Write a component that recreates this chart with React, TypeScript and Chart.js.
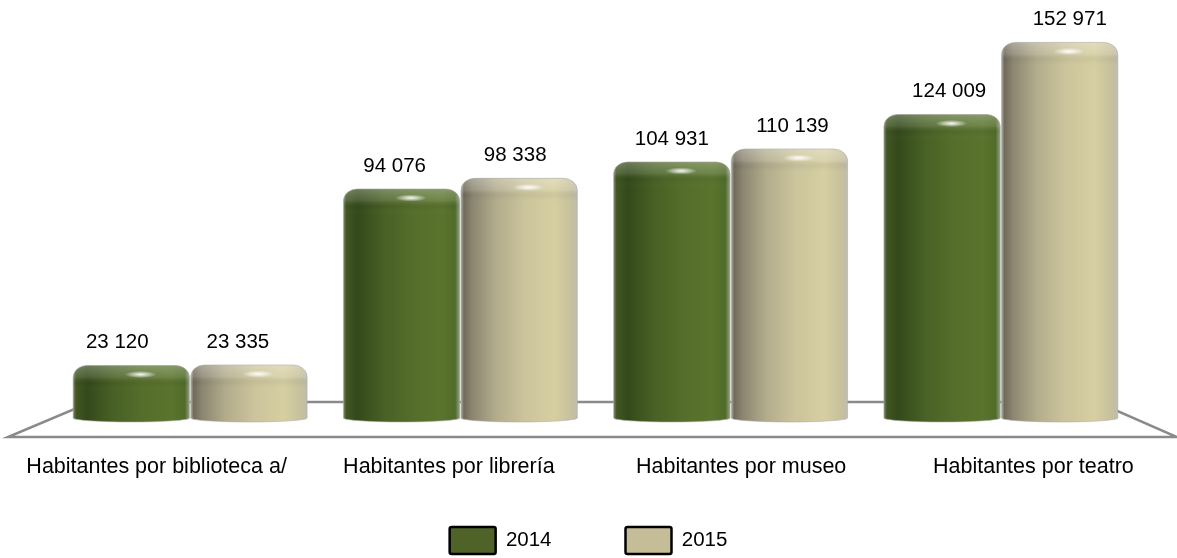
import React, { useEffect, useRef } from 'react';
import { Chart, registerables } from 'chart.js';

Chart.register(...registerables);

const categories = [
  'Habitantes por biblioteca a/',
  'Habitantes por librería',
  'Habitantes por museo',
  'Habitantes por teatro',
];
const seriesNames = ['2014', '2015'];
const values2014 = [23120, 94076, 104931, 124009];
const values2015 = [23335, 98338, 110139, 152971];
const seriesColors = ['#4f6228', '#c4bd97'];

const FONT = "'Liberation Sans', Arial, Helvetica, sans-serif";

const gradientStops: Array<Array<[number, string]>> = [
  [
    [0, '#7d8a6c'],
    [0.025, '#415622'],
    [0.12, '#34491b'],
    [0.35, '#486125'],
    [0.6, '#556e2b'],
    [0.85, '#5a742e'],
    [0.96, '#516b29'],
    [1, '#93a088'],
  ],
  [
    [0, '#b0afa6'],
    [0.025, '#716a5a'],
    [0.1, '#8c8672'],
    [0.3, '#b2ac8c'],
    [0.55, '#cbc49c'],
    [0.8, '#d6cfa2'],
    [0.95, '#c6c09c'],
    [1, '#bdbdb5'],
  ],
];

function fmt(v: number): string {
  return String(v).replace(/\B(?=(\d{3})+(?!\d))/g, ' ');
}

function cylPath(ctx: CanvasRenderingContext2D, x0: number, x1: number, top: number, bottom: number) {
  const w = x1 - x0;
  const h = bottom - top;
  const rx = Math.min(14, w / 2);
  const ry = Math.min(12, h / 3);
  const by = 4;
  ctx.beginPath();
  ctx.moveTo(x0, bottom - by);
  ctx.lineTo(x0, top + ry);
  ctx.ellipse(x0 + rx, top + ry, rx, ry, 0, Math.PI, 1.5 * Math.PI);
  ctx.lineTo(x1 - rx, top);
  ctx.ellipse(x1 - rx, top + ry, rx, ry, 0, 1.5 * Math.PI, 2 * Math.PI);
  ctx.lineTo(x1, bottom - by);
  ctx.ellipse((x0 + x1) / 2, bottom - by, w / 2, by, 0, 0, Math.PI);
  ctx.closePath();
}

const cylinderPlugin = {
  id: 'cylinder3d',
  beforeDatasetsDraw(chart: any) {
    const { ctx, chartArea } = chart;
    const b = chartArea.bottom;
    const fl = chartArea.left - 47;
    const fr = chartArea.right + 41;
    const bl = chartArea.left + 36;
    const br = chartArea.right - 39;
    ctx.save();
    ctx.strokeStyle = '#8a8a8a';
    ctx.lineWidth = 2.5;
    ctx.beginPath();
    ctx.moveTo(bl, b - 21);
    ctx.lineTo(br, b - 21);
    ctx.lineTo(fr, b + 14);
    ctx.lineTo(fl, b + 14);
    ctx.closePath();
    ctx.stroke();
    ctx.restore();
  },
  beforeDatasetDraw(chart: any, args: any) {
    const { ctx } = chart;
    const meta = args.meta;
    const stops = gradientStops[args.index] || gradientStops[0];
    ctx.save();
    meta.data.forEach((el: any) => {
      const { x, y, base, width } = el.getProps(['x', 'y', 'base', 'width'], true);
      const x0 = x - width / 2;
      const x1 = x + width / 2;
      const top = y;
      const bottom = base - 1;
      const g = ctx.createLinearGradient(x0, 0, x1, 0);
      stops.forEach(([o, c]) => g.addColorStop(o, c));
      cylPath(ctx, x0, x1, top, bottom);
      ctx.fillStyle = g;
      ctx.fill();
      ctx.save();
      cylPath(ctx, x0, x1, top, bottom);
      ctx.clip();
      const vg = ctx.createLinearGradient(0, top, 0, top + 26);
      vg.addColorStop(0, 'rgba(255,255,255,0.28)');
      vg.addColorStop(0.45, 'rgba(255,255,255,0.12)');
      vg.addColorStop(0.7, 'rgba(0,0,0,0.03)');
      vg.addColorStop(1, 'rgba(255,255,255,0)');
      ctx.fillStyle = vg;
      ctx.fillRect(x0, top, width, 26);
      const hx = x + width * 0.08;
      const hy = top + 9;
      ctx.translate(hx, hy);
      ctx.scale(1, 0.22);
      const rg = ctx.createRadialGradient(0, 0, 0, 0, 0, 16);
      rg.addColorStop(0, 'rgba(255,255,255,0.95)');
      rg.addColorStop(0.5, 'rgba(255,255,255,0.5)');
      rg.addColorStop(1, 'rgba(255,255,255,0)');
      ctx.fillStyle = rg;
      ctx.beginPath();
      ctx.arc(0, 0, 16, 0, Math.PI * 2);
      ctx.fill();
      ctx.restore();
      cylPath(ctx, x0, x1, top, bottom);
      ctx.strokeStyle = 'rgba(170,170,165,0.55)';
      ctx.lineWidth = 1;
      ctx.stroke();
    });
    ctx.restore();
    return false;
  },
  afterDatasetsDraw(chart: any) {
    const { ctx, chartArea } = chart;
    const cx = (chartArea.left + chartArea.right) / 2;
    ctx.save();
    ctx.font = `20.5px ${FONT}`;
    ctx.fillStyle = '#000000';
    ctx.textAlign = 'center';
    ctx.textBaseline = 'alphabetic';
    chart.data.datasets.forEach((ds: any, di: number) => {
      const meta = chart.getDatasetMeta(di);
      meta.data.forEach((el: any, i: number) => {
        const { x, y } = el.getProps(['x', 'y'], true);
        const lx = x + (x - (cx + 76)) * 0.026;
        ctx.fillText(fmt(ds.data[i]), lx, y - 17);
      });
    });
    const xs = chart.scales.x;
    ctx.font = `21.5px ${FONT}`;
    categories.forEach((c, i) => {
      const px = xs.getPixelForValue(i);
      const lx = cx - 0.5 + (px - cx) * 1.0814;
      ctx.fillText(c, lx, chartArea.bottom + 50);
    });
    ctx.restore();
  },
};

export default function App() {
  const canvasRef = useRef<HTMLCanvasElement | null>(null);

  useEffect(() => {
    if (!canvasRef.current) return;
    const chart = new Chart(canvasRef.current, {
      type: 'bar',
      data: {
        labels: categories,
        datasets: [
          { label: seriesNames[0], data: values2014, backgroundColor: seriesColors[0], borderWidth: 0 },
          { label: seriesNames[1], data: values2015, backgroundColor: seriesColors[1], borderWidth: 0 },
        ],
      },
      options: {
        animation: false,
        responsive: true,
        maintainAspectRatio: false,
        layout: { padding: { left: 0, right: 0, top: 5, bottom: 0 } },
        datasets: {
          bar: { categoryPercentage: 0.87, barPercentage: 0.99 },
        },
        scales: {
          x: {
            display: true,
            grid: { display: false },
            border: { display: false },
            ticks: { display: false },
            afterFit: (s: any) => {
              s.height = 30;
            },
          },
          y: {
            display: true,
            position: 'left',
            min: 0,
            max: 168000,
            grid: { display: false },
            border: { display: false },
            ticks: { display: false },
            afterFit: (s: any) => {
              s.width = 55;
            },
          },
          yRight: {
            type: 'linear',
            display: true,
            position: 'right',
            min: 0,
            max: 168000,
            grid: { display: false },
            border: { display: false },
            ticks: { display: false },
            afterFit: (s: any) => {
              s.width = 41;
            },
          },
        },
        plugins: {
          tooltip: { enabled: false },
          legend: {
            display: true,
            position: 'bottom',
            align: 'center',
            labels: {
              boxWidth: 46,
              boxHeight: 27,
              padding: 74,
              color: '#000000',
              font: { size: 20.5, family: FONT },
              useBorderRadius: true,
              borderRadius: 2,
              generateLabels: (c: any) =>
                c.data.datasets.map((ds: any, i: number) => ({
                  text: ds.label,
                  fillStyle: seriesColors[i],
                  strokeStyle: '#000000',
                  lineWidth: 2.5,
                  hidden: false,
                  datasetIndex: i,
                  fontColor: '#000000',
                  borderRadius: 2,
                })),
            },
          },
        },
      },
      plugins: [cylinderPlugin],
    } as any);
    return () => chart.destroy();
  }, []);

  return (
    <div style={{ position: 'absolute', left: 0, top: 0, width: 1177, height: 558, overflow: 'hidden', background: '#ffffff' }}>
      <div style={{ position: 'relative', width: 1177, height: 564 }}>
        <canvas ref={canvasRef} />
      </div>
    </div>
  );
}
